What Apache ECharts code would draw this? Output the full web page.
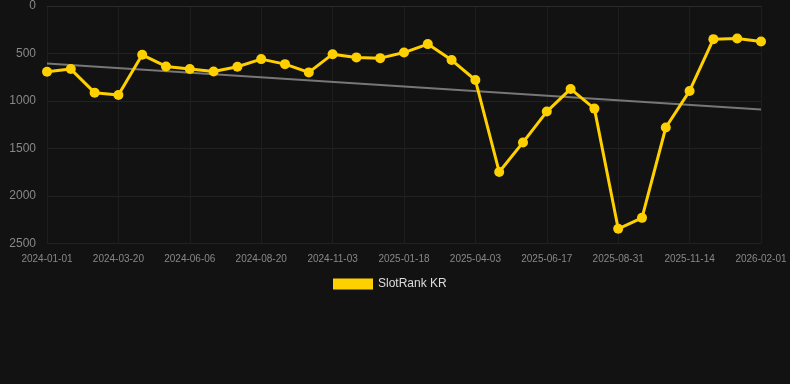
<!DOCTYPE html>
<html>
<head>
<meta charset="utf-8">
<script src="https://cdn.jsdelivr.net/npm/echarts@6/dist/echarts.min.js"></script>
<style>
html,body{margin:0;padding:0;background:#121212;}
#c{width:790px;height:384px;}
</style>
</head>
<body>
<div id="c"></div>
<script>
var dates = [
  '2024-01-01','2024-01-27','2024-02-23','2024-03-20','2024-04-15','2024-05-11',
  '2024-06-06','2024-07-01','2024-07-26','2024-08-20','2024-09-14','2024-10-09',
  '2024-11-03','2024-11-28','2024-12-24','2025-01-18','2025-02-12','2025-03-09',
  '2025-04-03','2025-04-28','2025-05-23','2025-06-17','2025-07-12','2025-08-06',
  '2025-08-31','2025-09-25','2025-10-20','2025-11-14','2025-12-10','2026-01-06',
  '2026-02-01'
];
var rankKR = [
  692, 664, 912, 936, 514, 636,
  664, 689, 640, 559, 612, 699,
  507, 541, 549, 490, 401, 569,
  779, 1747, 1436, 1111, 873, 1080,
  2345, 2230, 1279, 894, 349, 343,
  374
];
var trendStart = 605;
var trendEnd = 1090;
var yTicks = [0, 500, 1000, 1500, 2000, 2500];

var trend = dates.map(function (d, i) {
  return i === 0 ? trendStart : (i === dates.length - 1 ? trendEnd : null);
});

var FONT = '"Liberation Sans", Arial, sans-serif';
var chart = echarts.init(document.getElementById('c'), null, {renderer: 'canvas'});
chart.setOption({
  backgroundColor: '#121212',
  animation: false,
  textStyle: {fontFamily: FONT},
  grid: {left: 47, right: 29, top: 5, bottom: 140.5, containLabel: false},
  legend: {
    data: ['SlotRank KR'],
    top: 273,
    left: 328,
    itemWidth: 40,
    itemHeight: 11,
    itemGap: 10,
    icon: 'rect',
    textStyle: {color: '#dddddd', fontSize: 12, fontFamily: FONT}
  },
  xAxis: {
    type: 'category',
    data: dates,
    boundaryGap: false,
    axisLine: {show: true, lineStyle: {color: '#2a2a2a'}},
    axisTick: {show: false},
    axisLabel: {interval: 2, color: '#888888', fontSize: 10, margin: 11, fontFamily: FONT},
    splitLine: {show: true, interval: 2, lineStyle: {color: '#1e1e1e'}}
  },
  yAxis: {
    type: 'value',
    inverse: true,
    min: yTicks[0],
    max: yTicks[yTicks.length - 1],
    interval: 500,
    axisLine: {show: false},
    axisTick: {show: false},
    axisLabel: {
      color: '#888888', fontSize: 12, margin: 11, fontFamily: FONT,
      formatter: function (v) { return String(v); }
    },
    splitLine: {show: true, lineStyle: {color: '#222222'}}
  },
  series: [
    {
      name: 'Trend',
      type: 'line',
      data: trend,
      connectNulls: true,
      symbol: 'none',
      lineStyle: {color: '#777777', width: 2},
      z: 1
    },
    {
      name: 'SlotRank KR',
      type: 'line',
      data: rankKR,
      symbol: 'circle',
      symbolSize: 10,
      itemStyle: {color: '#ffd000'},
      lineStyle: {color: '#ffd000', width: 3},
      z: 3
    }
  ]
});
</script>
</body>
</html>
